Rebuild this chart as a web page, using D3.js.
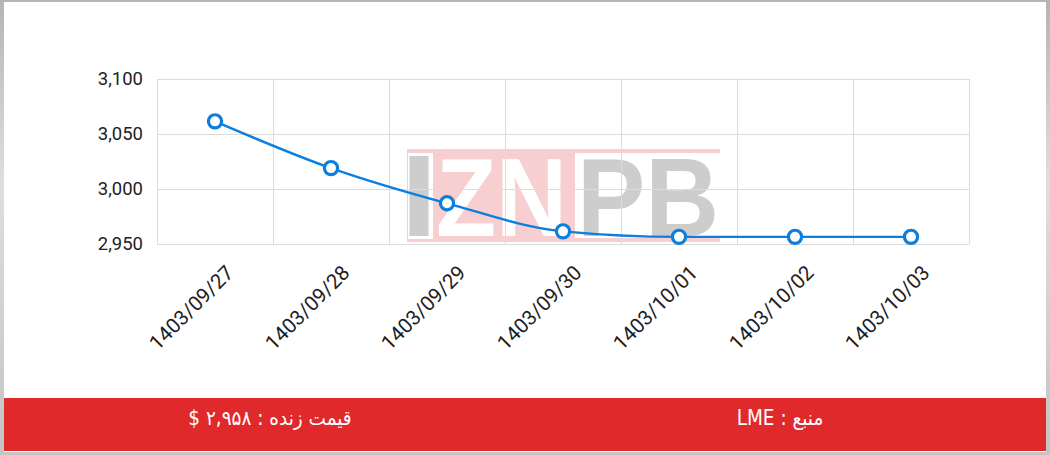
<!DOCTYPE html>
<html>
<head>
<meta charset="utf-8">
<script src="https://cdn.jsdelivr.net/npm/d3@7"></script>
<style>
  html, body { margin: 0; padding: 0; background: #fff; }
  #frame { position: relative; width: 1050px; height: 455px; background: linear-gradient(to bottom, #b5b5b5, #dedede 40%, #c4c4c4); overflow: hidden; }
  #inner { position: absolute; left: 4px; top: 2px; width: 1042px; height: 450px; background: #fff; }
  svg { position: absolute; left: 0; top: 0; }
</style>
</head>
<body>
<div id="frame"><div id="inner"></div><svg id="chart" width="1050" height="455"></svg></div>
<script>
const categories = ["1403/09/27","1403/09/28","1403/09/29","1403/09/30","1403/10/01","1403/10/02","1403/10/03"];
const prices = [3061.5, 3019, 2987, 2961.5, 2956.5, 2956.5, 2956.5];
const yTicks = [2950, 3000, 3050, 3100];
const footerLive = "قیمت زنده : ۲,۹۵۸ $";
const footerSource = "منبع : LME";

const svg = d3.select("#chart");
const pLeft = 157, pRight = 969, pTop = 79, pBottom = 244;

const x = d3.scaleBand().domain(categories).range([pLeft, pRight]).padding(0);
const y = d3.scaleLinear().domain([2950, 3100]).range([pBottom, pTop]);

// watermark
const wm = svg.append("g");
const pink = "#f7cfd0", gray = "#cdcdcd";
wm.append("rect").attr("x", 407).attr("y", 149).attr("width", 168).attr("height", 93).attr("fill", pink);
wm.append("rect").attr("x", 575).attr("y", 149).attr("width", 145).attr("height", 4).attr("fill", pink);
wm.append("rect").attr("x", 575).attr("y", 238).attr("width", 145).attr("height", 4).attr("fill", pink);
wm.append("rect").attr("x", 408).attr("y", 153).attr("width", 25).attr("height", 86).attr("fill", "#fff");
wm.append("rect").attr("x", 409.5).attr("y", 156).attr("width", 19).attr("height", 80).attr("fill", gray);
wm.append("text").attr("x", 436).attr("y", 236).attr("font-family", "Liberation Sans").attr("font-weight", "bold")
  .attr("font-size", 112).attr("fill", "#fff").attr("textLength", 131).attr("lengthAdjust", "spacingAndGlyphs").text("ZN");
wm.append("text").attr("x", 577).attr("y", 236).attr("font-family", "Liberation Sans").attr("font-weight", "bold")
  .attr("font-size", 112).attr("fill", gray).attr("textLength", 142).attr("lengthAdjust", "spacingAndGlyphs").text("PB");

// grid
const grid = svg.append("g").attr("stroke", "#dcdcdc").attr("stroke-width", 1);
grid.selectAll("line.h").data(yTicks).join("line").attr("class", "h")
  .attr("x1", pLeft).attr("x2", pRight).attr("y1", d => Math.round(y(d)) + 0.5).attr("y2", d => Math.round(y(d)) + 0.5);
const vlines = categories.map(c => x(c)).concat([pRight]);
grid.selectAll("line.v").data(vlines).join("line").attr("class", "v")
  .attr("x1", d => Math.round(d) + 0.5).attr("x2", d => Math.round(d) + 0.5).attr("y1", pTop).attr("y2", pBottom);

// y axis labels
const yAxis = d3.axisLeft(y).tickValues(yTicks).tickFormat(d3.format(",")).tickSize(0).tickPadding(14);
const yg = svg.append("g").attr("transform", `translate(${pLeft},0)`).call(yAxis);
yg.select(".domain").remove();
yg.selectAll("text").attr("font-family", "Roboto").attr("font-size", 18.5).attr("fill", "#222");

// x axis labels
const xAxis = d3.axisBottom(x).tickSize(0).tickPadding(0);
const xg = svg.append("g").attr("transform", `translate(0,${pBottom})`).call(xAxis);
xg.select(".domain").remove();
xg.selectAll("text").attr("font-family", "Roboto").attr("font-size", 20.5).attr("fill", "#222")
  .attr("text-anchor", "end").attr("dy", 0).attr("y", 0)
  .attr("transform", "translate(20,30) rotate(-45)");

// line
const blue = "#0a7fdd";
const line = d3.line().x((d, i) => x(categories[i]) + x.bandwidth() / 2).y(d => y(d)).curve(d3.curveMonotoneX);
svg.append("path").datum(prices).attr("d", line).attr("fill", "none").attr("stroke", blue).attr("stroke-width", 2.4);
svg.selectAll("circle.pt").data(prices).join("circle").attr("class", "pt")
  .attr("cx", (d, i) => x(categories[i]) + x.bandwidth() / 2).attr("cy", d => y(d))
  .attr("r", 6.6).attr("fill", "#fff").attr("stroke", blue).attr("stroke-width", 3.2);

// footer
svg.append("rect").attr("x", 4).attr("y", 398).attr("width", 1042).attr("height", 53).attr("fill", "#e0292b");
svg.append("text").attr("x", 270).attr("y", 425).attr("text-anchor", "middle").attr("direction", "rtl")
  .attr("font-family", "DejaVu Sans Condensed").attr("font-size", 20.5).attr("fill", "#fff").text(footerLive);
svg.append("text").attr("x", 780).attr("y", 425).attr("text-anchor", "middle").attr("direction", "rtl")
  .attr("font-family", "DejaVu Sans Condensed").attr("font-size", 20.5).attr("fill", "#fff").text(footerSource);
</script>
</body>
</html>
